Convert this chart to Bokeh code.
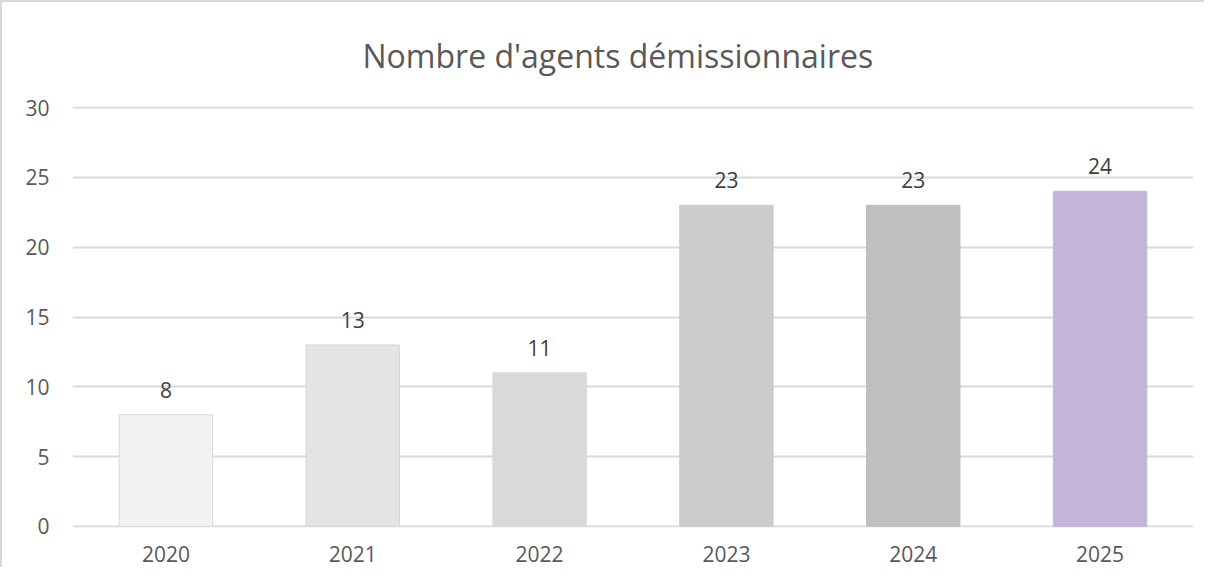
from bokeh.plotting import figure
from bokeh.models import ColumnDataSource, Range1d, FixedTicker
from bokeh.embed import file_html
from bokeh.resources import INLINE
from bokeh.core.properties import value

years = ["2020", "2021", "2022", "2023", "2024", "2025"]
counts = [8, 13, 11, 23, 23, 24]
colors = ["#f2f2f2", "#e4e4e4", "#d9d9d9", "#cccccc", "#bfbfbf", "#c4b5d8"]
outlines = ["#dadada", "#d6d6d6", "#d9d9d9", "#cccccc", "#bfbfbf", "#c4b5d8"]
labels = [str(c) for c in counts]
y_ticks = [0, 5, 10, 15, 20, 25, 30]

src = ColumnDataSource(dict(x=years, y=counts, c=colors, lc=outlines, t=labels))

FONT = "Open Sans"

p = figure(x_range=years, y_range=Range1d(-0.08, 30.08), width=1204, height=567,
           output_backend="svg", toolbar_location=None,
           min_border_left=70, min_border_right=13, min_border_bottom=42, min_border_top=104)
p.title.text = "Nombre d'agents démissionnaires"
p.title.align = "left"
p.title.text_font = FONT
p.title.text_font_size = "32px"
p.title.text_font_style = "normal"
p.title.text_color = "#595959"
p.title.offset = 290
p.title.standoff = 59

p.vbar(x="x", top="y", width=0.5, source=src, fill_color="c", line_color="lc", line_width=1)
p.text(x="x", y="y", text="t", source=src, text_align="center", text_baseline="bottom",
       y_offset=-17, text_font=value(FONT), text_font_size="21px", text_color="#404040")

p.outline_line_color = None
p.xgrid.grid_line_color = None
p.ygrid.grid_line_color = "#d9d9d9"
p.ygrid.grid_line_width = 2
p.yaxis.ticker = FixedTicker(ticks=y_ticks)

for ax in (p.xaxis, p.yaxis):
    ax.axis_line_color = None
    ax.major_tick_line_color = None
    ax.minor_tick_line_color = None
    ax.major_label_text_font = FONT
    ax.major_label_text_font_size = "21px"
    ax.major_label_text_color = "#595959"
p.xaxis.major_label_standoff = 12
p.yaxis.major_label_standoff = 17
p.styles = {"border-left": "2px solid #d9d9d9", "border-top": "2px solid #d9d9d9"}

open("out.html", "w").write(file_html(p, INLINE))
